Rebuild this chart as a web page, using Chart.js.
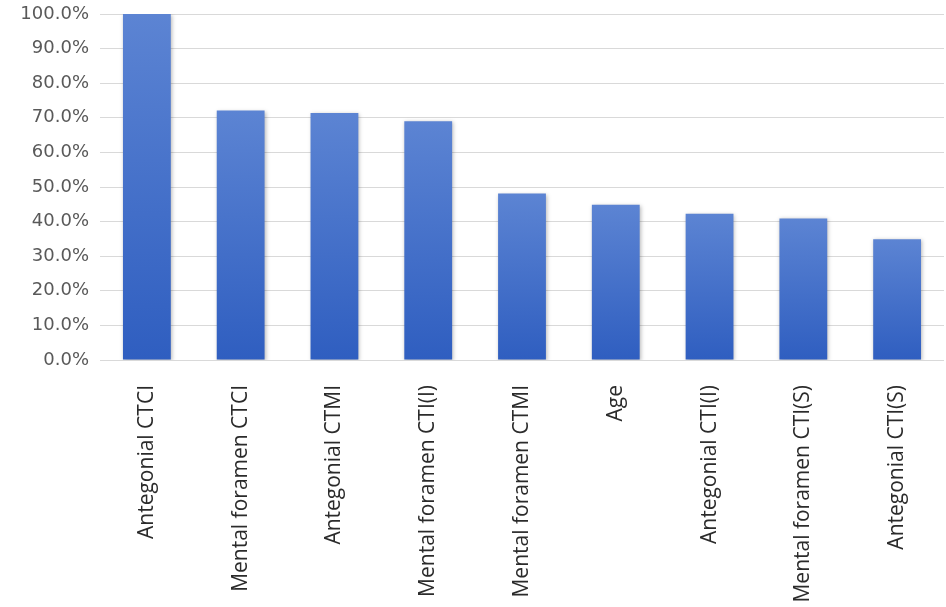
<!DOCTYPE html>
<html>
<head>
<meta charset="utf-8">
<script src="https://cdn.jsdelivr.net/npm/chart.js@4"></script>
<style>
  html, body { margin: 0; padding: 0; background: #ffffff; }
  #wrap { width: 946px; height: 607px; position: relative; }
</style>
</head>
<body>
<div id="wrap"><canvas id="myChart"></canvas></div>
<script>
const categories = [
    'Antegonial CTCI', 'Mental foramen CTCI', 'Antegonial CTMI', 'Mental foramen CTI(I)',
    'Mental foramen CTMI', 'Age', 'Antegonial CTI(I)', 'Mental foramen CTI(S)', 'Antegonial CTI(S)'
];
const importance = [100.0, 72.1, 71.4, 69.0, 48.1, 44.9, 42.3, 40.9, 34.9];
const yTicks = [0, 10, 20, 30, 40, 50, 60, 70, 80, 90, 100];

const ctx = document.getElementById('myChart').getContext('2d');

// each bar gets its own light-to-dark gradient, like the Excel fill
const barFill = (c) => {
    const chart = c.chart;
    if (!chart.chartArea || c.raw === undefined) return '#4472C4';
    const y = chart.scales.y;
    const top = y.getPixelForValue(c.raw);
    const bottom = y.getPixelForValue(0);
    const g = chart.ctx.createLinearGradient(0, top, 0, bottom);
    g.addColorStop(0, '#5C84D3');
    g.addColorStop(1, '#2F5EC0');
    return g;
};

const barShadow = {
    id: 'barShadow',
    beforeDatasetsDraw(chart) {
        const c = chart.ctx;
        c.save();
        c.shadowColor = 'rgba(0,0,0,0.28)';
        c.shadowBlur = 4;
        c.shadowOffsetX = 1;
        c.shadowOffsetY = 1;
    },
    afterDatasetsDraw(chart) {
        chart.ctx.restore();
    }
};

new Chart(ctx, {
    type: 'bar',
    data: {
        labels: categories,
        datasets: [{
            data: importance,
            backgroundColor: barFill,
            borderWidth: 0,
            categoryPercentage: 1,
            barPercentage: 0.51
        }]
    },
    options: {
        responsive: true,
        maintainAspectRatio: false,
        animation: false,
        layout: { padding: { top: 14, right: 2, bottom: 0, left: 0 } },
        plugins: {
            legend: { display: false },
            tooltip: { enabled: false }
        },
        scales: {
            y: {
                min: 0,
                max: 100,
                afterBuildTicks: (scale) => {
                    scale.ticks = yTicks.map(v => ({ value: v }));
                },
                afterFit: (scale) => {
                    scale.width = 100;
                    scale.paddingTop = 0;
                    scale.paddingBottom = 0;
                },
                grid: { color: '#d9d9d9', lineWidth: 1, drawTicks: false },
                border: { display: false },
                ticks: {
                    color: '#595959',
                    padding: 11,
                    font: { family: 'DejaVu Sans', size: 18 },
                    callback: (value) => value.toFixed(1) + '%'
                }
            },
            x: {
                afterFit: (scale) => {
                    scale.height = 247;
                    scale.paddingLeft = 0;
                    scale.paddingRight = 0;
                },
                grid: { display: false, drawTicks: false },
                border: { display: false },
                ticks: {
                    color: '#2b2b2b',
                    padding: 25,
                    minRotation: 90,
                    maxRotation: 90,
                    autoSkip: false,
                    font: { family: 'Open Sans', size: 21 }
                }
            }
        }
    },
    plugins: [barShadow]
});
</script>
</body>
</html>
